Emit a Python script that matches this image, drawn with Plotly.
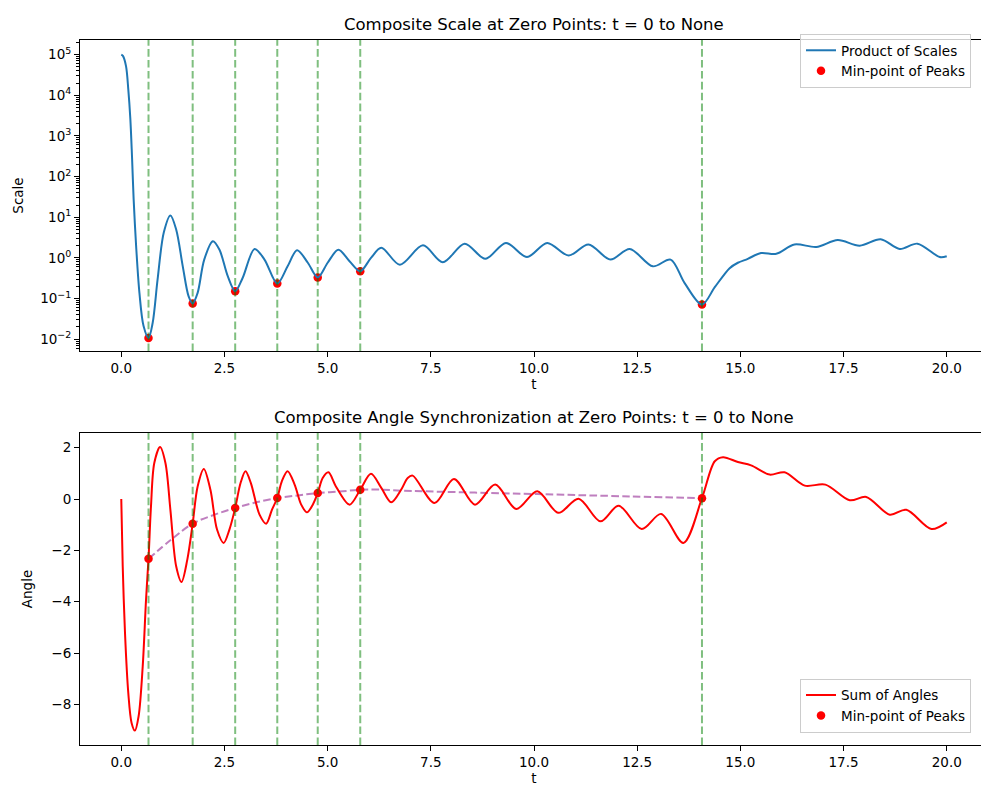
import plotly.graph_objects as go
from plotly.subplots import make_subplots

# ---------------- data ----------------
scale_t = [0.00, 0.04, 0.115, 0.17, 0.22, 0.26, 0.30, 0.36, 0.44, 0.54, 0.66, 0.76, 0.88,
           1.03, 1.19, 1.33, 1.49, 1.63, 1.73, 1.85, 2.01, 2.22, 2.38, 2.58, 2.76, 2.94,
           3.23, 3.47, 3.78, 4.03, 4.26, 4.52, 4.76, 5.00, 5.26, 5.53, 5.79, 6.05, 6.30,
           6.75, 7.31, 7.79, 8.32, 8.82, 9.32, 9.83, 10.32, 10.84, 11.32, 11.85, 12.32,
           12.88, 13.31, 13.65, 14.07, 14.38, 14.74, 14.94, 15.18, 15.50, 15.87, 16.31,
           16.84, 17.36, 17.89, 18.40, 18.86, 19.29, 19.83, 20.00]
scale_v = [100000, 93000, 52000, 14000, 2600, 316, 27.5, 1.95, 0.138, 0.021, 0.0107, 0.025, 0.295,
           4.2, 11.0, 5.0, 0.62, 0.115, 0.076, 0.138, 0.91, 2.57, 1.58, 0.355, 0.151, 0.32,
           1.66, 0.91, 0.234, 0.62, 1.55, 0.76, 0.33, 0.76, 1.58, 0.83, 0.47, 1.0, 1.78,
           0.68, 2.04, 0.78, 2.24, 0.95, 2.34, 1.05, 2.34, 1.15, 2.14, 0.91, 1.66,
           0.62, 0.91, 0.24, 0.071, 0.19, 0.56, 0.76, 0.95, 1.32, 1.26, 2.14,
           1.86, 2.75, 2.0, 2.88, 1.66, 2.24, 1.05, 1.10]

angle_t = [0.00, 0.035, 0.09, 0.17, 0.25, 0.33, 0.42, 0.52, 0.60, 0.66, 0.72, 0.80, 0.94,
           1.07, 1.19, 1.33, 1.46, 1.60, 1.73, 1.85, 2.00, 2.16, 2.32, 2.48, 2.62, 2.76,
           2.89, 3.01, 3.14, 3.35, 3.51, 3.65, 3.78, 3.89, 4.03, 4.20, 4.36, 4.50, 4.64,
           4.76, 4.88, 5.02, 5.20, 5.53, 5.79, 6.05, 6.30, 6.54, 6.78, 6.94, 7.06, 7.59,
           8.06, 8.57, 9.06, 9.57, 10.08, 10.59, 11.08, 11.61, 12.05, 12.61, 13.08, 13.62,
           14.07, 14.38, 14.58, 14.94, 15.26, 15.71, 16.07, 16.56, 17.06, 17.65, 18.05,
           18.62, 19.02, 19.63, 20.00]
angle_v = [0.0, -2.62, -5.21, -7.55, -8.72, -9.02, -8.46, -6.51, -3.92, -2.33, -0.28, 1.40, 2.02,
           1.40, -0.42, -2.62, -3.23, -2.36, -0.96, 0.49, 1.17, 0.36, -1.19, -1.71, -1.19, -0.35,
           0.62, 1.08, 0.62, -0.61, -0.96, -0.42, 0.04, 0.69, 1.08, 0.56, -0.22, -0.52, -0.22,
           0.23, 0.82, 1.04, 0.49, -0.22, 0.36, 0.98, 0.43, -0.13, 0.36, 0.82, 0.91, -0.16,
           0.78, -0.22, 0.56, -0.39, 0.30, -0.54, 0.01, -0.87, -0.26, -1.17, -0.58, -1.71,
           0.03, 1.47, 1.63, 1.44, 1.31, 0.95, 1.04, 0.52, 0.56, -0.05, 0.08,
           -0.61, -0.42, -1.17, -0.91]

zero_t = [0.66, 1.73, 2.76, 3.78, 4.76, 5.79, 14.07]
zero_scale = [0.0107, 0.076, 0.151, 0.234, 0.33, 0.47, 0.071]
zero_angle = [-2.33, -0.96, -0.35, 0.04, 0.23, 0.36, 0.03]

trend_t = [0.66, 1.21, 1.73, 2.26, 2.76, 3.27, 3.78, 4.28, 4.76, 5.29, 5.79, 6.21, 6.70,
           8.32, 10.09, 12.35, 14.07]
trend_v = [-2.33, -1.58, -0.96, -0.61, -0.35, -0.13, 0.04, 0.14, 0.23, 0.29, 0.36, 0.37, 0.33,
           0.26, 0.19, 0.10, 0.03]

x_ticks = [0, 2.5, 5, 7.5, 10, 12.5, 15, 17.5, 20]
scale_exps = [-2, -1, 0, 1, 2, 3, 4, 5]
angle_ticks = [-8, -6, -4, -2, 0, 2]

titles = ["Composite Scale at Zero Points: t = 0 to None",
          "Composite Angle Synchronization at Zero Points: t = 0 to None"]

# ---------------- figure ----------------
FONT = "DejaVu Sans"
W, H = 989, 790
ML, MR, MT, MB = 72, 9, 32, 53
ph = H - MT - MB
top_dom = [(737 - 343) / ph, 1.0]
bot_dom = [0.0, (737 - 425) / ph]

fig = make_subplots(rows=2, cols=1)

BLUE = "#1f77b4"
RED = "#ff0000"
GREEN = "rgba(0,128,0,0.5)"
PURPLE = "rgba(128,0,128,0.5)"
DASH = "7.6px,3.3px"

# top
fig.add_trace(go.Scatter(x=zero_t, y=zero_scale, mode="markers", name="Min-point of Peaks",
                         marker=dict(color=RED, size=8.5), legend="legend", legendrank=2),
              row=1, col=1)
fig.add_trace(go.Scatter(x=scale_t, y=scale_v, mode="lines", name="Product of Scales",
                         line=dict(color=BLUE, width=2, shape="spline", smoothing=0.9),
                         legend="legend", legendrank=1), row=1, col=1)

# bottom
fig.add_trace(go.Scatter(x=trend_t, y=trend_v, mode="lines", showlegend=False,
                         line=dict(color=PURPLE, width=2, dash=DASH, shape="spline")),
              row=2, col=1)
fig.add_trace(go.Scatter(x=zero_t, y=zero_angle, mode="markers", name="Min-point of Peaks",
                         marker=dict(color=RED, size=8.5), legend="legend2", legendrank=2),
              row=2, col=1)
fig.add_trace(go.Scatter(x=angle_t, y=angle_v, mode="lines", name="Sum of Angles",
                         line=dict(color=RED, width=2, shape="spline", smoothing=0.9),
                         legend="legend2", legendrank=1), row=2, col=1)

for z in zero_t:
    for r in (1, 2):
        fig.add_vline(x=z, line=dict(color=GREEN, width=2, dash=DASH), row=r, col=1)

axis_common = dict(showline=True, linecolor="black", linewidth=1.1, mirror=True,
                   ticks="outside", ticklen=5, tickwidth=1.1, tickcolor="black",
                   showgrid=False, zeroline=False, automargin=False,
                   tickfont=dict(family=FONT, size=13.5, color="black"))

for r in (1, 2):
    fig.update_xaxes(range=[-1, 21], tickvals=x_ticks,
                     ticktext=[f"{v:.1f}" for v in x_ticks],
                     title=dict(text="t", font=dict(family=FONT, size=13.5, color="black"), standoff=1),
                     row=r, col=1, **axis_common)

minor_vals = [m * 10 ** e for e in range(-3, 6) for m in range(2, 10)]
fig.update_yaxes(type="log", range=[-2.29, 5.36],
                 tickvals=[10 ** e for e in scale_exps],
                 ticktext=[f"10<sup>{'−' if e < 0 else ''}{abs(e)}</sup>" for e in scale_exps],
                 minor=dict(tickvals=minor_vals, ticks="outside", ticklen=3, tickwidth=0.8,
                            tickcolor="black", showgrid=False),
                 title=dict(text="Scale", font=dict(family=FONT, size=13.5, color="black"), standoff=13),
                 domain=top_dom, row=1, col=1, **axis_common)
fig.update_yaxes(range=[-9.58, 2.57], tickvals=angle_ticks,
                 ticktext=[("−" if v < 0 else "") + str(abs(v)) for v in angle_ticks],
                 title=dict(text="Angle", font=dict(family=FONT, size=13.5, color="black"), standoff=15),
                 domain=bot_dom, row=2, col=1, **axis_common)

for i, (txt, dom) in enumerate(zip(titles, [top_dom, bot_dom])):
    fig.add_annotation(text=txt, x=0.5, xref="paper", y=dom[1], yref="paper",
                       yanchor="bottom", yshift=4, showarrow=False,
                       font=dict(family=FONT, size=16.5, color="black"))

legend_common = dict(bgcolor="rgba(255,255,255,0.8)", bordercolor="#cccccc", borderwidth=1,
                     font=dict(family=FONT, size=13.5, color="black"), itemwidth=30,
                     xanchor="right", x=(963 - ML) / (W - ML - MR))

fig.update_layout(
    width=W, height=H,
    margin=dict(l=ML, r=MR, t=MT, b=MB),
    plot_bgcolor="white", paper_bgcolor="white",
    font=dict(family=FONT, size=13.5, color="black"),
    legend=dict(yanchor="top", y=(737 - 26) / ph, **legend_common),
    legend2=dict(yanchor="bottom", y=(737 - 724.7) / ph, **legend_common),
)

fig.write_html("out.html")
